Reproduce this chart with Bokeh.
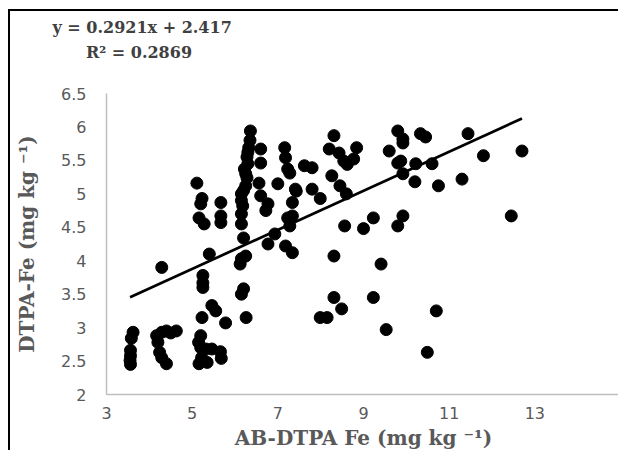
from bokeh.plotting import figure
from bokeh.models import FixedTicker, NumeralTickFormatter, Title, ColumnDataSource
from bokeh.embed import file_html
from bokeh.resources import INLINE

# AB-DTPA Fe (x) vs DTPA-Fe (y), mg kg-1
ab_dtpa_fe = [
    3.62, 3.58, 3.56, 3.56, 3.55, 3.56,
    4.29, 4.17, 4.29, 4.40, 4.63, 4.20, 4.24, 4.29, 4.40, 4.50,
    5.20, 5.15, 5.20, 5.32, 5.46, 5.16, 5.35, 5.22, 5.66, 5.68,
    5.46, 5.55, 5.23, 5.78, 6.26, 5.25, 5.25, 5.25, 5.40, 6.15, 6.20, 6.15, 6.25, 6.12,
    5.11, 5.23, 5.20, 5.67, 5.16, 5.28, 5.67, 5.67,
    6.36, 6.32, 6.28, 6.30, 6.22, 6.25, 6.28, 6.25, 6.20, 6.15, 6.15, 6.18, 6.15, 6.15, 6.20, 6.35, 6.30,
    6.60, 6.60, 6.56, 6.60, 6.77, 6.72, 6.93, 6.77,
    7.00, 7.16, 7.18, 7.23, 7.28, 7.23, 7.34, 7.34, 7.28, 7.18, 7.34, 7.41, 7.43,
    7.62, 7.80, 7.80, 7.99, 7.99, 8.15,
    8.31, 8.20, 8.43, 8.84, 8.54, 8.77, 8.62, 8.26, 8.45, 8.60, 8.56, 8.31, 8.31, 8.49,
    9.00, 9.23, 9.41, 9.23, 9.53, 9.60,
    9.80, 9.92, 9.92, 9.87, 9.80, 9.92, 9.92, 9.80, 10.20, 10.33, 10.45, 10.22, 10.60, 10.75, 10.70, 10.49,
    11.30, 11.44, 11.80, 12.70, 12.45,
]
dtpa_fe = [
    2.93, 2.84, 2.66, 2.58, 2.51, 2.45,
    3.90, 2.88, 2.93, 2.95, 2.95, 2.78, 2.63, 2.55, 2.46, 2.92,
    2.88, 2.78, 2.70, 2.68, 2.68, 2.46, 2.48, 2.55, 2.64, 2.54,
    3.33, 3.25, 3.15, 3.07, 3.15, 3.78, 3.67, 3.60, 4.10, 3.50, 3.58, 4.03, 4.07, 3.95,
    5.16, 4.93, 4.85, 4.87, 4.64, 4.55, 4.67, 4.57,
    5.94, 5.69, 5.55, 5.45, 5.37, 5.30, 5.24, 5.12, 5.05, 5.00, 4.90, 4.82, 4.70, 4.55, 4.34, 5.80, 5.62,
    5.67, 5.46, 5.16, 4.97, 4.85, 4.75, 4.40, 4.25,
    5.15, 5.69, 5.54, 5.37, 5.31, 4.64, 4.87, 4.67, 4.52, 4.22, 4.12, 5.07, 5.04,
    5.42, 5.39, 5.07, 4.93, 3.15, 3.15,
    5.87, 5.67, 5.61, 5.69, 5.49, 5.52, 5.44, 5.27, 5.12, 5.00, 4.52, 4.07, 3.45, 3.28,
    4.48, 4.64, 3.95, 3.45, 2.97, 5.64,
    5.94, 5.82, 5.76, 5.49, 5.46, 5.30, 4.67, 4.52, 5.18, 5.90, 5.85, 5.45, 5.45, 5.12, 3.25, 2.63,
    5.22, 5.90, 5.57, 5.64, 4.67,
]
slope = 0.2921
intercept = 2.417
equation = "y = 0.2921x + 2.417"
r2_text = "R² = 0.2869"
x_ticks = [3, 5, 7, 9, 11, 13]
y_ticks = [2, 2.5, 3, 3.5, 4, 4.5, 5, 5.5, 6, 6.5]
x_title = "AB-DTPA Fe (mg kg ⁻¹)"
y_title = "DTPA-Fe (mg kg ⁻¹)"

SERIF = "DejaVu Serif"
SANS = "DejaVu Sans"

p = figure(width=610, height=441, x_range=(3, 15), y_range=(2, 6.5),
           output_backend="svg", toolbar_location=None,
           min_border_left=96, min_border_right=0, min_border_top=82, min_border_bottom=58)
p.styles = {"margin-left": "8px", "margin-top": "9px",
            "border-left": "2px solid black", "border-top": "2px solid black"}
p.outline_line_color = None
p.xgrid.grid_line_color = None
p.ygrid.grid_line_color = None
p.background_fill_color = "white"
p.border_fill_color = "white"

for ax in (p.xaxis[0], p.yaxis[0]):
    ax.axis_line_color = "#bfbfbf"
    ax.axis_line_width = 1.5
    ax.major_tick_line_color = None
    ax.minor_tick_line_color = None
    ax.major_tick_out = 0
    ax.major_tick_in = 0
    ax.minor_tick_out = 0
    ax.minor_tick_in = 0
    ax.major_label_text_color = "#595959"
    ax.major_label_text_font = SANS
    ax.major_label_text_font_size = "16px"
    ax.axis_label_text_font = SERIF
    ax.axis_label_text_font_style = "bold"
    ax.axis_label_text_font_size = "20px"
    ax.axis_label_text_color = "#595959"

p.xaxis.ticker = FixedTicker(ticks=x_ticks)
p.yaxis.ticker = FixedTicker(ticks=y_ticks)
p.yaxis.formatter = NumeralTickFormatter(format="0.[0]")
p.xaxis.axis_label = x_title
p.yaxis.axis_label = y_title
p.xaxis.major_label_standoff = 12
p.yaxis.major_label_standoff = 20
p.xaxis.axis_label_standoff = 4
p.yaxis.axis_label_standoff = 19

src = ColumnDataSource(dict(x=ab_dtpa_fe, y=dtpa_fe))
p.scatter("x", "y", source=src, size=12, fill_color="black", line_color="black")

x0, x1 = min(ab_dtpa_fe), max(ab_dtpa_fe)
p.line([x0, x1], [slope * x0 + intercept, slope * x1 + intercept], line_color="black", line_width=2.7)

# regression equation and R² as a two-line block above the plot area
nb = "\u00a0"
block = equation + "\n" + nb * 6 + r2_text + "\n" + nb
p.add_layout(Title(text=block, align="left", offset=-54, standoff=9,
                   vertical_align="middle", text_line_height=1.345,
                   text_font=SERIF, text_font_style="bold",
                   text_font_size="16px", text_color="#404040"), "above")

open("out.html", "w").write(file_html(p, INLINE))
